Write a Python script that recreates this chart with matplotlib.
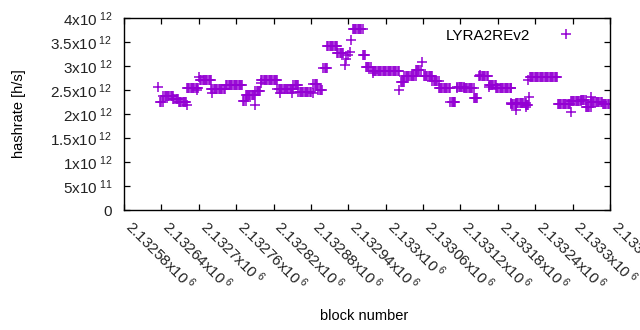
import matplotlib
matplotlib.use("Agg")
import matplotlib.pyplot as plt
import numpy as np

plt.rcParams["font.family"] = ["Liberation Sans", "DejaVu Sans"]
plt.rcParams["mathtext.fontset"] = "custom"
plt.rcParams["mathtext.rm"] = "Liberation Sans"
plt.rcParams["mathtext.it"] = "Liberation Sans"

# runs of constant hashrate (block start, block end, hashrate in 1e12 h/s)
run_start = [2132638, 2132643, 2132659, 2132668, 2132681, 2132702, 2132720, 2132744,
             2132771, 2132775, 2132791, 2132800, 2132826, 2132852, 2132860, 2132884,
             2132892, 2132900, 2132906, 2132922, 2132947, 2132963, 2132968, 2132979,
             2133024, 2133030, 2133048, 2133061, 2133075, 2133085, 2133104, 2133115,
             2133125, 2133141, 2133150, 2133165, 2133177, 2133201, 2133209, 2133225,
             2133231, 2133276, 2133297, 2133313, 2133321, 2133329, 2133348]
run_end = [2132643, 2132659, 2132668, 2132680, 2132699, 2132720, 2132742, 2132771,
           2132775, 2132791, 2132800, 2132826, 2132852, 2132860, 2132881, 2132890,
           2132898, 2132906, 2132922, 2132932, 2132963, 2132968, 2132977, 2133021,
           2133030, 2133048, 2133056, 2133075, 2133085, 2133104, 2133112, 2133125,
           2133141, 2133148, 2133165, 2133177, 2133201, 2133209, 2133225, 2133230,
           2133276, 2133297, 2133313, 2133321, 2133329, 2133348, 2133358]
run_rate = [2.26, 2.38, 2.31, 2.26, 2.54, 2.71, 2.53, 2.60,
            2.28, 2.40, 2.48, 2.71, 2.52, 2.61, 2.45, 2.62,
            2.50, 2.96, 3.42, 3.27, 3.77, 3.23, 2.97, 2.90,
            2.67, 2.79, 2.92, 2.80, 2.69, 2.54, 2.25, 2.56,
            2.54, 2.34, 2.79, 2.60, 2.54, 2.20, 2.23, 2.18,
            2.77, 2.21, 2.27, 2.29, 2.15, 2.24, 2.20]

# single blocks off the runs
iso_block = [2132635, 2132681, 2132701, 2132697, 2132722, 2132791, 2132800, 2132831,
             2132850, 2132884, 2132934, 2132937, 2132940, 2132942, 2132945, 2132979,
             2133021, 2133058, 2133109, 2133114, 2133151, 2133165, 2133201, 2133201,
             2133209, 2133225, 2133230, 2133229, 2133297, 2133329]
iso_rate = [2.56, 2.19, 2.77, 2.50, 2.44, 2.19, 2.65, 2.44,
            2.44, 2.44, 3.02, 3.15, 3.23, 3.29, 3.54, 2.85,
            2.50, 3.08, 2.25, 2.54, 2.81, 2.56, 2.54, 2.23,
            2.08, 2.15, 2.35, 2.71, 2.04, 2.35]

blocks = list(iso_block)
rates = list(iso_rate)
for s, e, r in zip(run_start, run_end, run_rate):
    for b in range(s, e + 1, 2):
        blocks.append(b)
        rates.append(r)
blocks = np.array(blocks)
rates = np.array(rates) * 1e12

xticks = np.arange(2132580, 2133361, 60)
yticks = np.arange(0, 4.01e12, 0.5e12)
ytick_labels = ["0", r"5x10$^{\ 11}$", r"1x10$^{\ 12}$", r"1.5x10$^{\ 12}$", r"2x10$^{\ 12}$",
                r"2.5x10$^{\ 12}$", r"3x10$^{\ 12}$", r"3.5x10$^{\ 12}$", r"4x10$^{\ 12}$"]
xtick_labels = ["%gx10$^{\\ 6}$" % (t / 1e6) for t in xticks]

fig = plt.figure(figsize=(6.4, 3.3), dpi=100)
ax = fig.add_axes([124 / 640, 1 - 210 / 330, (610 - 124) / 640, (210 - 18) / 330])
ax.plot(blocks, rates, linestyle="none", marker="+", markersize=6.5,
        markeredgewidth=1.1, color="#9400d3", label="LYRA2REv2")

ax.set_xlim(2132580, 2133360)
ax.set_ylim(0, 4e12)
ax.set_xticks(xticks)
ax.set_xticklabels(xtick_labels, rotation=-45, ha="left", va="baseline",
                   rotation_mode="anchor", fontsize=11, color="#222222")
ax.set_yticks(yticks)
ax.set_yticklabels(ytick_labels, fontsize=11, color="#222222")
ax.tick_params(axis="both", direction="in", length=4.5, width=0.9,
               top=True, right=True)
ax.tick_params(axis="x", pad=13)
ax.tick_params(axis="y", pad=8.5)
for axis in ["top", "bottom", "left", "right"]:
    ax.spines[axis].set_linewidth(1.0)

ax.set_ylabel("hashrate [h/s]", fontsize=10.5)
ax.set_xlabel("block number", fontsize=10.5)
ax.xaxis.set_label_coords((364 - 124) / (610 - 124), -(309 - 210) / (210 - 18))
ax.yaxis.set_label_coords(-(124 - 26) / (610 - 124), 0.5)

ax.legend(loc="upper right", frameon=False, markerfirst=False, fontsize=11,
          handlelength=1.5, handletextpad=1.6, borderaxespad=0.3,
          bbox_to_anchor=(0.956, 1.0))

fig.savefig("out.png", dpi=100)
